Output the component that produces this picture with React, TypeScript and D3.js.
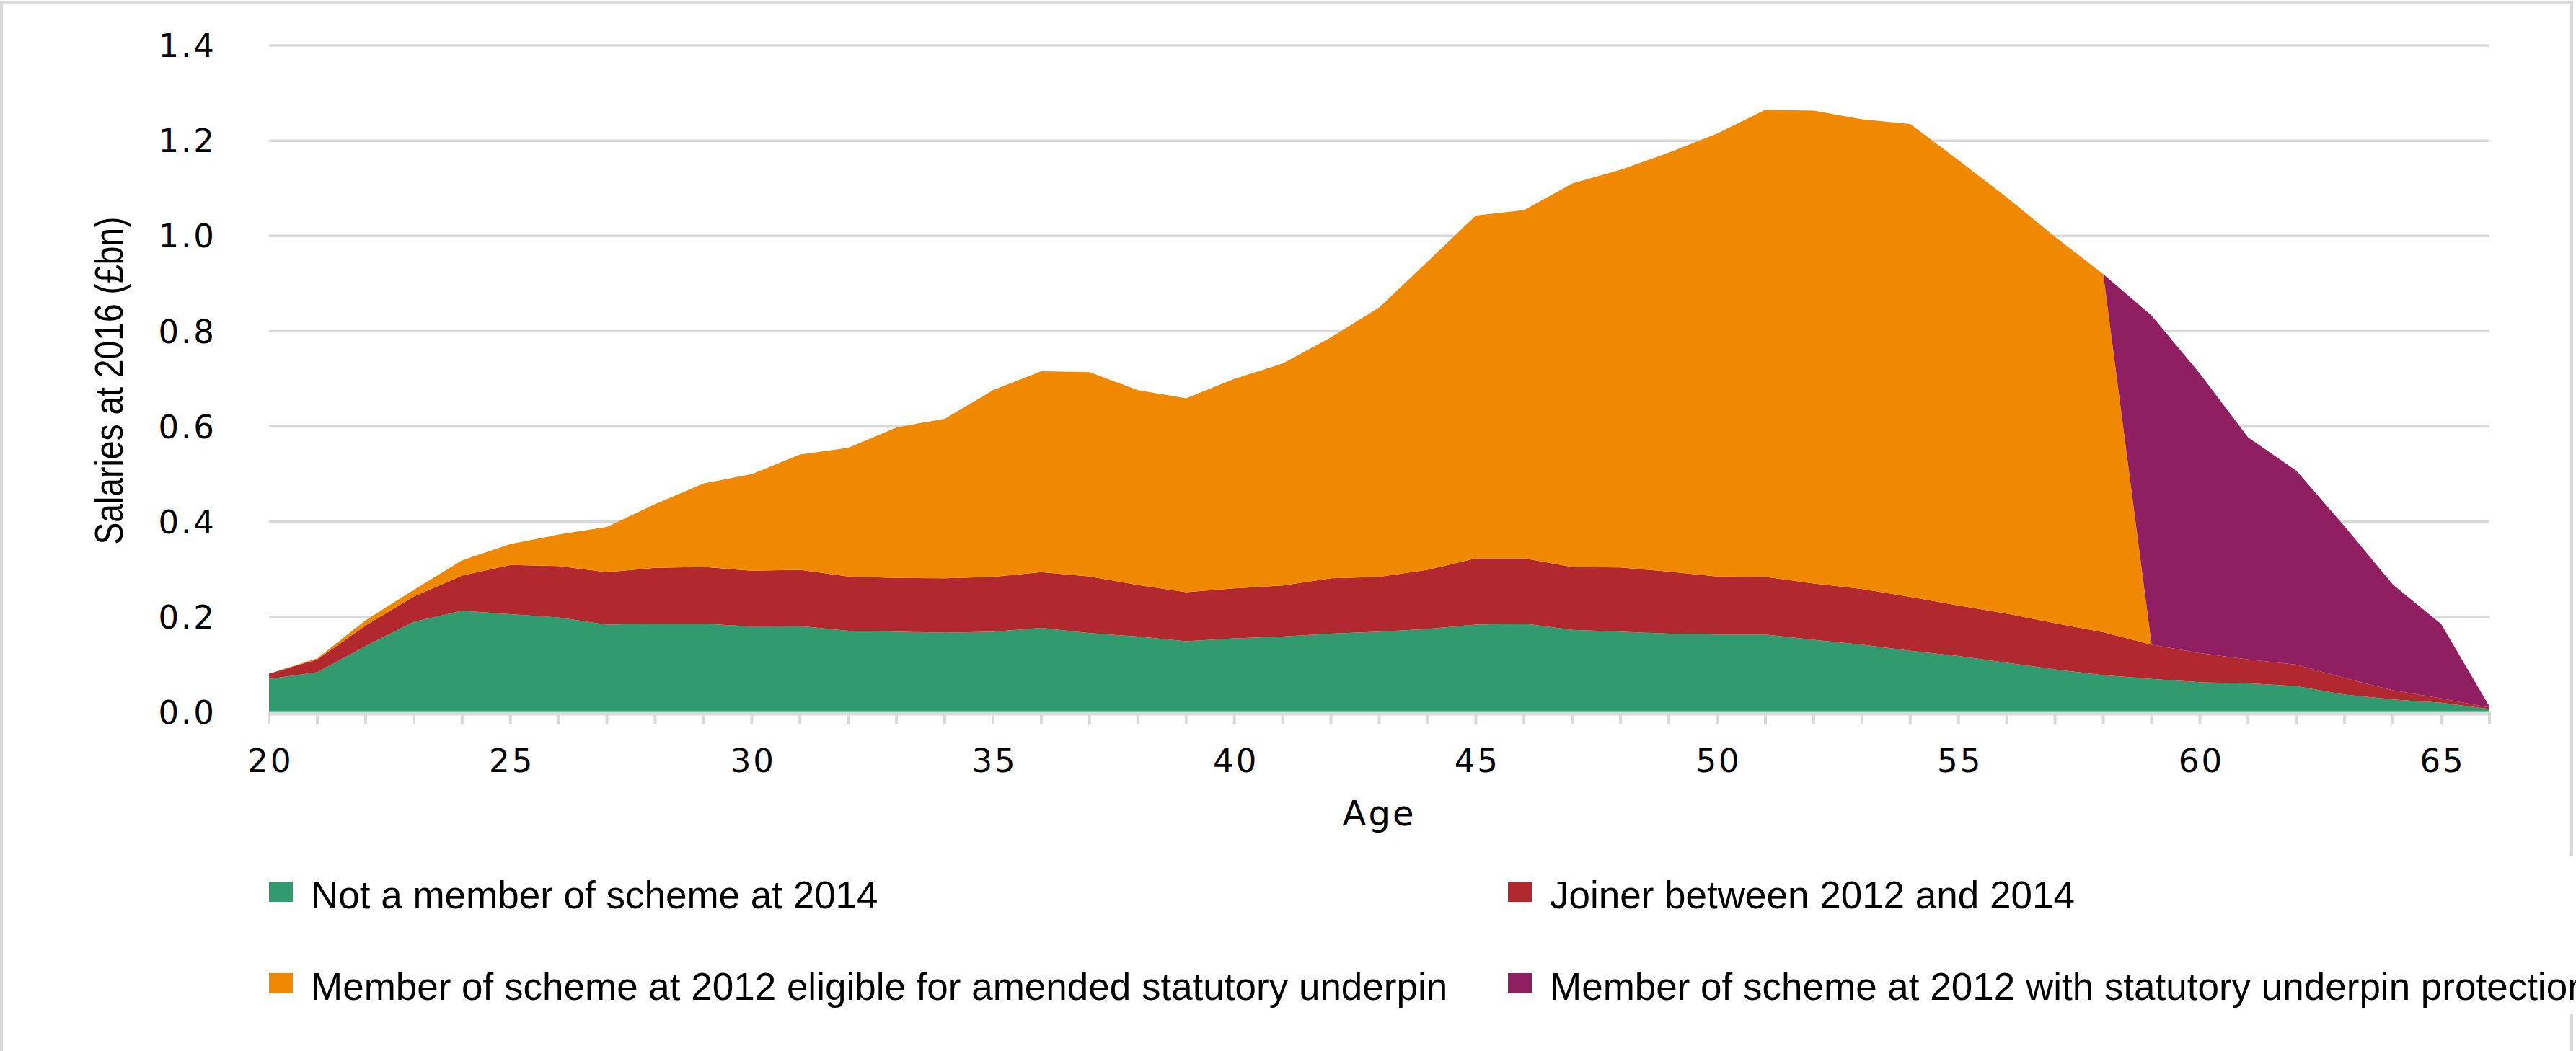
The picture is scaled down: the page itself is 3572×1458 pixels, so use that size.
import React, { useEffect, useRef } from 'react';
import * as d3 from 'd3';

const ages = [
  20, 21, 22, 23, 24, 25, 26, 27, 28, 29, 30, 31, 32, 33, 34, 35, 36, 37, 38, 39, 40, 41, 42, 43,
  44, 45, 46, 47, 48, 49, 50, 51, 52, 53, 54, 55, 56, 57, 58, 59, 60, 61, 62, 63, 64, 65, 66,
];

const notMember = [
  0.070, 0.084, 0.139, 0.190, 0.213, 0.206, 0.199, 0.184, 0.186, 0.186,
  0.180, 0.181, 0.171, 0.169, 0.167, 0.169, 0.177, 0.166, 0.159, 0.149,
  0.155, 0.159, 0.165, 0.169, 0.175, 0.184, 0.186, 0.173, 0.169, 0.165,
  0.163, 0.163, 0.152, 0.142, 0.129, 0.118, 0.104, 0.090, 0.078, 0.070,
  0.063, 0.061, 0.055, 0.037, 0.027, 0.020, 0.007,
];

const joiner = [
  0.011, 0.027, 0.043, 0.053, 0.074, 0.103, 0.108, 0.110, 0.117, 0.119,
  0.117, 0.118, 0.114, 0.113, 0.114, 0.115, 0.117, 0.119, 0.108, 0.103,
  0.105, 0.107, 0.116, 0.115, 0.124, 0.139, 0.137, 0.132, 0.135, 0.130,
  0.122, 0.121, 0.118, 0.117, 0.113, 0.106, 0.103, 0.097, 0.090, 0.072,
  0.061, 0.050, 0.045, 0.035, 0.019, 0.009, 0.003,
];

const eligible = [
  0.000, 0.002, 0.011, 0.014, 0.032, 0.044, 0.066, 0.095, 0.134, 0.175,
  0.203, 0.242, 0.270, 0.316, 0.335, 0.392, 0.422, 0.429, 0.409, 0.407,
  0.440, 0.466, 0.506, 0.566, 0.647, 0.720, 0.731, 0.805, 0.835, 0.880,
  0.930, 0.981, 0.993, 0.986, 0.993, 0.935, 0.874, 0.811, 0.752, 0,
  0, 0, 0, 0, 0, 0, 0,
];

const underpinProtected = [
  0, 0, 0, 0, 0, 0, 0, 0, 0, 0,
  0, 0, 0, 0, 0, 0, 0, 0, 0, 0,
  0, 0, 0, 0, 0, 0, 0, 0, 0, 0,
  0, 0, 0, 0, 0, 0, 0, 0, 0, 0.691,
  0.587, 0.466, 0.407, 0.318, 0.222, 0.156, 0.002,
];

const seriesKeys = ['notMember', 'joiner', 'eligible', 'underpinProtected'];
const seriesLabels = [
  'Not a member of scheme at 2014',
  'Joiner between 2012 and 2014',
  'Member of scheme at 2012 eligible for amended statutory underpin',
  'Member of scheme at 2012 with statutory underpin protection',
];
const seriesColors = ['#319b6f', '#b1292e', '#f08800', '#901f61'];

const W = 3572;
const H = 1458;

const App = () => {
  const svgRef = useRef(null);

  useEffect(() => {
    const svg = d3.select(svgRef.current);
    svg.selectAll('*').remove();

    const x = d3.scaleLinear().domain([20, 66]).range([373, 3452]);
    const y = d3.scaleLinear().domain([0, 1.4]).range([988, 63]);

    const rows = ages.map((age, i) => ({
      age,
      notMember: notMember[i],
      joiner: joiner[i],
      eligible: eligible[i],
      underpinProtected: underpinProtected[i],
    }));
    const stacked = d3.stack().keys(seriesKeys)(rows);

    // outer frame
    svg.append('rect')
      .attr('x', 2).attr('y', 4)
      .attr('width', W - 8).attr('height', H + 10)
      .attr('fill', '#fff')
      .attr('stroke', '#d9d9d9')
      .attr('stroke-width', 4);

    // gridlines
    svg.append('g')
      .selectAll('line')
      .data(y.ticks(7).filter((v) => v > 0))
      .enter()
      .append('line')
      .attr('x1', x(20)).attr('x2', x(66))
      .attr('y1', (d) => y(d)).attr('y2', (d) => y(d))
      .attr('stroke', '#d9d9d9')
      .attr('stroke-width', 3.5);

    // stacked areas
    const area = d3.area()
      .x((d) => x(d.data.age))
      .y0((d) => y(d[0]))
      .y1((d) => y(d[1]));

    svg.append('g')
      .selectAll('path')
      .data(stacked)
      .enter()
      .append('path')
      .attr('d', area)
      .attr('fill', (d, i) => seriesColors[i]);

    // x axis line and ticks
    svg.append('line')
      .attr('x1', x(20) - 2).attr('x2', x(66) + 2)
      .attr('y1', y(0) + 2).attr('y2', y(0) + 2)
      .attr('stroke', '#d9d9d9')
      .attr('stroke-width', 5);

    svg.append('g')
      .selectAll('line')
      .data(ages)
      .enter()
      .append('line')
      .attr('x1', (d) => x(d)).attr('x2', (d) => x(d))
      .attr('y1', y(0)).attr('y2', y(0) + 17)
      .attr('stroke', '#d9d9d9')
      .attr('stroke-width', 4);

    // y tick labels
    svg.append('g')
      .selectAll('text')
      .data(y.ticks(7))
      .enter()
      .append('text')
      .attr('x', 300)
      .attr('y', (d) => y(d))
      .attr('dy', '0.36em')
      .attr('text-anchor', 'end')
      .attr('font-family', 'DejaVu Sans')
      .attr('font-size', 45)
      .attr('letter-spacing', 3)
      .attr('fill', '#000')
      .text(d3.format('.1f'));

    // x tick labels
    svg.append('g')
      .selectAll('text')
      .data(x.ticks(10))
      .enter()
      .append('text')
      .attr('x', (d) => x(d) + 2)
      .attr('y', 1071)
      .attr('text-anchor', 'middle')
      .attr('font-family', 'DejaVu Sans')
      .attr('font-size', 45)
      .attr('letter-spacing', 3)
      .attr('fill', '#000')
      .text((d) => d);

    // axis titles
    svg.append('text')
      .attr('x', (x(20) + x(66)) / 2)
      .attr('y', 1145)
      .attr('text-anchor', 'middle')
      .attr('font-family', 'DejaVu Sans')
      .attr('font-size', 48)
      .attr('letter-spacing', 3)
      .attr('fill', '#000')
      .text('Age');

    // condensed y title, as in the source
    svg.append('text')
      .attr('transform', 'translate(170,528) rotate(-90)')
      .attr('text-anchor', 'middle')
      .attr('font-family', 'Liberation Sans')
      .attr('font-size', 56)
      .attr('textLength', 455)
      .attr('lengthAdjust', 'spacingAndGlyphs')
      .attr('fill', '#000')
      .text('Salaries at 2016 (£bn)');

    // legend
    svg.append('rect')
      .attr('x', 2080).attr('y', 1188)
      .attr('width', W - 2080).attr('height', 218)
      .attr('fill', '#fff');

    const legendPos = [
      { x: 373, y: 1260 },
      { x: 2091, y: 1260 },
      { x: 373, y: 1387 },
      { x: 2091, y: 1387 },
    ];
    const legend = svg.append('g')
      .selectAll('g')
      .data(seriesLabels)
      .enter()
      .append('g')
      .attr('transform', (d, i) => `translate(${legendPos[i].x},${legendPos[i].y})`);

    legend.append('rect')
      .attr('x', 0).attr('y', -37)
      .attr('width', 33).attr('height', 28)
      .attr('fill', (d, i) => seriesColors[i]);

    legend.append('text')
      .attr('x', 58)
      .attr('y', 0)
      .attr('font-family', 'Liberation Sans')
      .attr('font-size', 53)
      .attr('fill', '#000')
      .text((d) => d);
  }, []);

  return (
    <svg
      ref={svgRef}
      width={W}
      height={H}
      style={{ position: 'absolute', left: 0, top: 0, background: '#fff' }}
    />
  );
};

export default App;
